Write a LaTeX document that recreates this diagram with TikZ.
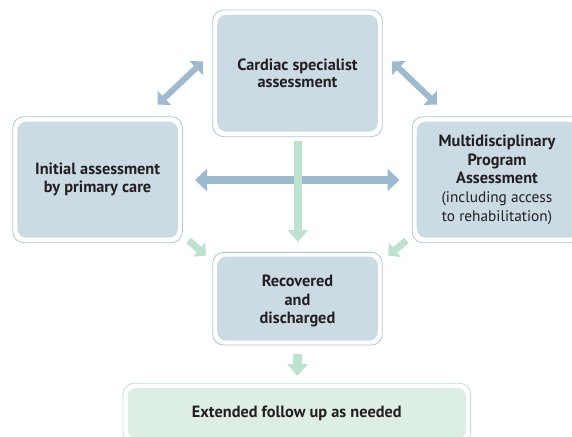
\documentclass[tikz,border=0pt]{standalone}
\usepackage{fontspec}
\setmainfont{PT Sans}
\usetikzlibrary{arrows.meta}
\definecolor{boxblue}{RGB}{203,219,228}
\definecolor{frameblue}{RGB}{172,200,218}
\definecolor{arrowblue}{RGB}{157,187,207}
\definecolor{arrowgreen}{RGB}{190,226,208}
\definecolor{boxgreen}{RGB}{221,238,229}
\definecolor{framegreen}{RGB}{192,224,208}
\definecolor{txt}{RGB}{35,31,32}
\begin{document}
\begin{tikzpicture}[x=1pt,y=-1pt,
  frame/.style={draw=frameblue, line width=0.8pt, fill=white, rounded corners=11pt, inner sep=0pt},
  panel/.style={fill=boxblue, rounded corners=9pt, inner sep=0pt, text=txt, align=center,
    font=\fontsize{16.3}{17.8}\selectfont\bfseries},
  gframe/.style={frame, draw=framegreen},
  gpanel/.style={panel, fill=boxgreen},
  twoway/.style={draw=arrowblue, line width=6pt, {Triangle[length=9.5pt,width=19pt]}-{Triangle[length=9.5pt,width=19pt]}},
  wide/.style={draw=arrowblue, line width=8pt, {Triangle[length=12pt,width=22pt]}-{Triangle[length=12pt,width=22pt]}},
  oneway/.style={draw=arrowgreen, line width=8pt, -{Triangle[length=12pt,width=20pt]}},
  small/.style={draw=arrowgreen, line width=7pt, -{Triangle[length=9pt,width=18pt]}}
]
\useasboundingbox (0,0) rectangle (572,436);
\clip (0,0) rectangle (572,436);

% boxes
\node[frame, minimum width=169.6pt, minimum height=126.7pt] (cardF) at (297.5,73.3) {};
\node[panel, minimum width=160.6pt, minimum height=116.7pt] (card) at (cardF) {Cardiac specialist\\assessment};

\node[frame, minimum width=169.6pt, minimum height=126pt] (initF) at (97.6,179.7) {};
\node[panel, minimum width=160.6pt, minimum height=116pt] (init) at (initF) {Initial assessment\\by primary care};

\node[frame, minimum width=169.6pt, minimum height=126pt] (multF) at (497,179.7) {};
\node[panel, minimum width=160.6pt, minimum height=116pt, font=\fontsize{15.3}{18.6}\selectfont] (mult) at (multF)
  {\fontsize{16.3}{18.6}\selectfont\bfseries Multidisciplinary\\\fontsize{16.3}{18.6}\selectfont\bfseries Program\\\fontsize{16.3}{18.6}\selectfont\bfseries Assessment\\(including access\\to rehabilitation)};

\node[frame, minimum width=169.6pt, minimum height=92.7pt] (recF) at (297.5,298.7) {};
\node[panel, minimum width=160.6pt, minimum height=84pt] (rec) at (recF) {};
\node[text=txt, align=center, font=\fontsize{16.3}{18.3}\selectfont\bfseries] (recT) at (297.5,301) {Recovered\\and\\discharged};

\node[gframe, minimum width=347.6pt, minimum height=60pt] (extF) at (296.8,413.3) {};
\node[gpanel, minimum width=338.6pt, minimum height=51pt] (ext) at (extF) {Extended follow up as needed};

% connector end points
\coordinate (tlA) at (157.5,104.5);
\coordinate (tlB) at (203,61.5);
\coordinate (trA) at (392,61.5);
\coordinate (trB) at (437,104.5);
\coordinate (hA) at (195,180);
\coordinate (hB) at (399.5,180);
\coordinate (vA) at (297.8,140.7);
\coordinate (vB) at (297.8,242);
\coordinate (slA) at (188.5,240.5);
\coordinate (slB) at (206,255.5);
\coordinate (srA) at (406.5,240.5);
\coordinate (srB) at (388,255.5);
\coordinate (dA) at (297.5,353.5);
\coordinate (dB) at (297.5,376);

% arrows
\draw[twoway] (tlA) -- (tlB);
\draw[twoway] (trA) -- (trB);
\draw[wide] (hA) -- (hB);
\draw[oneway] (vA) -- (vB);
\draw[small] (slA) -- (slB);
\draw[small] (srA) -- (srB);
\draw[oneway, line width=8.5pt] (dA) -- (dB);
\end{tikzpicture}
\end{document}
